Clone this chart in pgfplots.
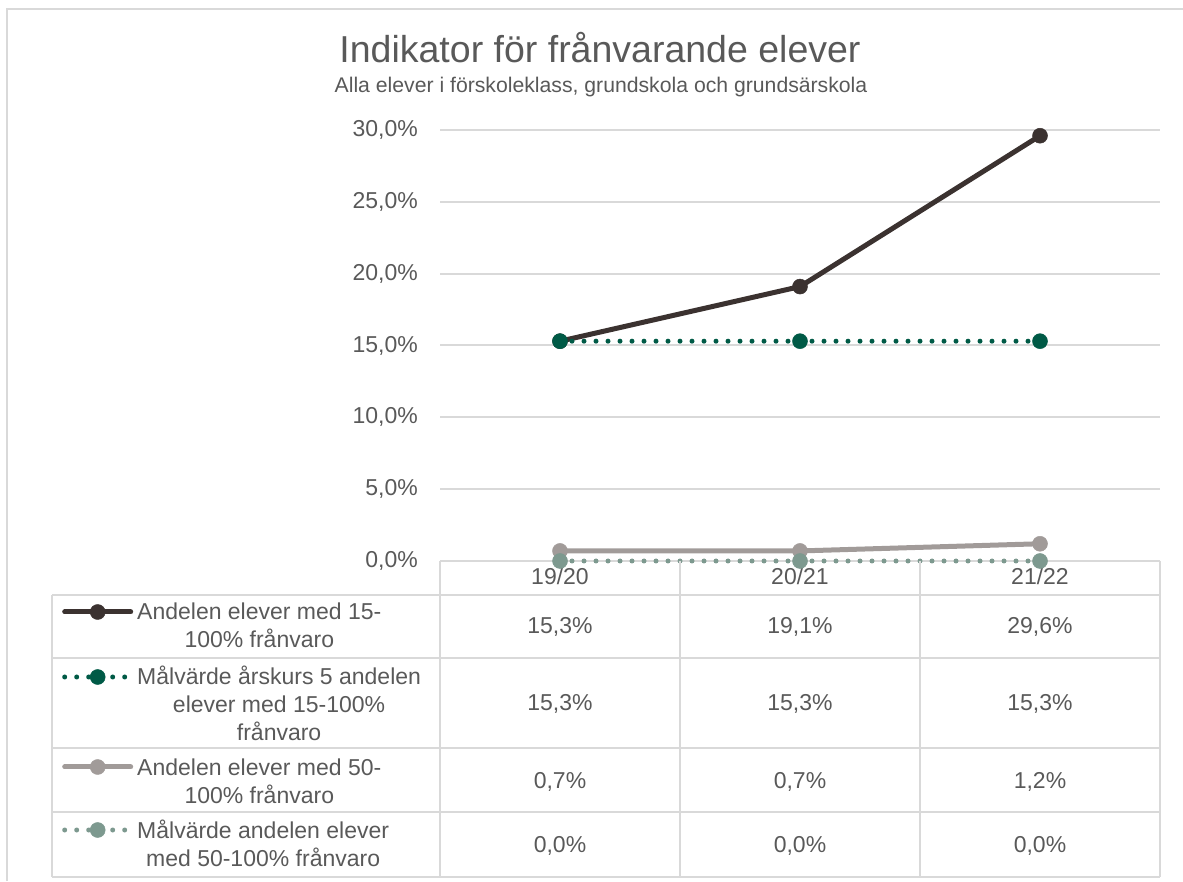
\documentclass[border=0pt]{standalone}
\usepackage{fontspec}
\setmainfont{Liberation Sans}
\usepackage{pgfplots}
\pgfplotsset{compat=1.18}

\definecolor{txt}{HTML}{595959}
\definecolor{grd}{HTML}{D9D9D9}
\definecolor{sA}{HTML}{3B3230}
\definecolor{sB}{HTML}{005A46}
\definecolor{sC}{HTML}{A19B99}
\definecolor{sD}{HTML}{7D998F}

\newcommand{\tf}{\fontsize{23}{28}\selectfont}

\pgfplotsset{
  keyimg/.style={
    legend image code/.code={\draw[mark repeat=2,mark phase=2,##1] plot coordinates {(0pt,0pt) (33pt,0pt) (66pt,0pt)};}},
  solidser/.style={line width=5pt, line cap=round, line join=round, mark=*, mark size=7.5pt, mark options={solid, line width=0.5pt}},
  dotser/.style={line width=5pt, line cap=round, dash pattern=on 0pt off 12pt, mark=*, mark size=7.5pt, mark options={solid, line width=0.5pt}},
  keyaxis/.style={hide axis, scale only axis, width=10pt, height=10pt,
    xmin=0, xmax=1, ymin=0, ymax=1, anchor=west, keyimg,
    legend style={at={(0,0.5)}, anchor=west, draw=none, fill=none, inner sep=0pt,
      cells={anchor=west, inner sep=0pt}}},
}

\begin{document}
\begin{tikzpicture}
\path[use as bounding box] (0,0) rectangle (1183pt,881pt);

\begin{axis}[
  scale only axis, width=720pt, height=431pt,
  at={(440pt,320pt)}, anchor=south west,
  xmin=-0.5, xmax=2.5, ymin=0, ymax=30,
  clip=false,
  axis line style={draw=none},
  major tick length=0pt,
  xtick={0,1,2}, xticklabels={19/20,20/21,21/22},
  ytick={0,5,10,15,20,25,30},
  yticklabels={{0,0\%},{5,0\%},{10,0\%},{15,0\%},{20,0\%},{25,0\%},{30,0\%}},
  ymajorgrids, grid style={grd, line width=2pt},
  tick label style={font=\tf, text=txt},
  yticklabel style={anchor=east, inner sep=0pt, xshift=-22pt},
  xticklabel style={anchor=base, inner sep=0pt, yshift=-24pt},
]
\addplot[sA, solidser] coordinates {(0,15.3) (1,19.1) (2,29.6)};
\addplot[sB, dotser] coordinates {(0,15.3) (1,15.3) (2,15.3)};
\addplot[sC, solidser] coordinates {(0,0.7) (1,0.7) (2,1.2)};
\addplot[sD, dotser] coordinates {(0,0) (1,0) (2,0)};
\end{axis}

% legend keys of the data table, one per row
\begin{axis}[keyaxis, at={(62pt,269pt)}]
\addlegendimage{sA, solidser}\addlegendentry{}
\end{axis}
\begin{axis}[keyaxis, at={(62pt,204pt)}]
\addlegendimage{sB, dotser}\addlegendentry{}
\end{axis}
\begin{axis}[keyaxis, at={(62pt,114pt)}]
\addlegendimage{sC, solidser}\addlegendentry{}
\end{axis}
\begin{axis}[keyaxis, at={(62pt,51pt)}]
\addlegendimage{sD, dotser}\addlegendentry{}
\end{axis}

\begin{scope}[shift={(0pt,881pt)}, x=1pt, y=-1pt]
% chart frame (cropped)
\draw[grd, line width=2pt] (7,881) -- (7,9) -- (1183,9);
% title
\node[anchor=base, font=\fontsize{37.5}{42}\selectfont, text=txt, inner sep=0pt] at (600,63) {Indikator för frånvarande elever};
\node[anchor=base, font=\fontsize{21.2}{25}\selectfont, text=txt, inner sep=0pt] at (601,93) {Alla elever i förskoleklass, grundskola och grundsärskola};
% data table
\draw[grd, line width=2pt]
  (52,595) -- (1160,595)
  (52,658) -- (1160,658)
  (52,748) -- (1160,748)
  (52,812) -- (1160,812)
  (52,877) -- (1160,877)
  (52,595) -- (52,877)
  (440,561) -- (440,877)
  (680,561) -- (680,877)
  (920,561) -- (920,877)
  (1160,561) -- (1160,877);
\tikzset{lg/.style={anchor=base west, inner sep=0pt, text=txt, font=\tf}}
\node[lg] at (137,620) {\begin{tabular}[t]{@{}c@{}}Andelen elever med 15-\\100\% frånvaro\end{tabular}};
\node[lg] at (137,685) {\begin{tabular}[t]{@{}c@{}}Målvärde årskurs 5 andelen\\elever med 15-100\%\\frånvaro\end{tabular}};
\node[lg] at (137,775) {\begin{tabular}[t]{@{}c@{}}Andelen elever med 50-\\100\% frånvaro\end{tabular}};
\node[lg] at (137,838) {\begin{tabular}[t]{@{}c@{}}Målvärde andelen elever\\med 50-100\% frånvaro\end{tabular}};
\tikzset{vl/.style={anchor=base, inner sep=0pt, text=txt, font=\tf}}
\node[vl] at (560,634) {15,3\%}; \node[vl] at (800,634) {19,1\%}; \node[vl] at (1040,634) {29,6\%};
\node[vl] at (560,711) {15,3\%}; \node[vl] at (800,711) {15,3\%}; \node[vl] at (1040,711) {15,3\%};
\node[vl] at (560,788) {0,7\%};  \node[vl] at (800,788) {0,7\%};  \node[vl] at (1040,788) {1,2\%};
\node[vl] at (560,852) {0,0\%};  \node[vl] at (800,852) {0,0\%};  \node[vl] at (1040,852) {0,0\%};
\end{scope}
\end{tikzpicture}
\end{document}
